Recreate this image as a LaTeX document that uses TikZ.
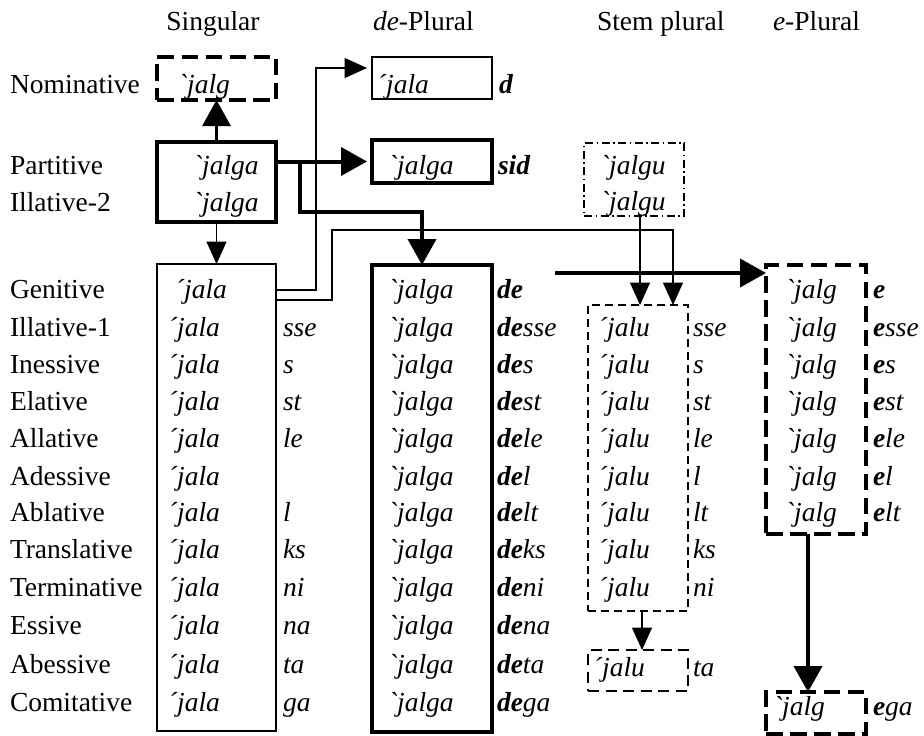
\documentclass[tikz,border=0pt]{standalone}
\usepackage{fontspec}
\setmainfont{Liberation Serif}[Ligatures=TeXOff]
\usetikzlibrary{arrows.meta,fit,calc}
\begin{document}
\begin{tikzpicture}[x=0.4pt,y=-0.4pt,
  every node/.style={inner sep=0pt, outer sep=0pt, font=\fontsize{11}{13}\selectfont},
  txt/.style={anchor=base west},
  hd/.style={anchor=base},
  it/.style={anchor=base west, font=\fontsize{11}{13}\selectfont\itshape},
  thinbox/.style={draw, line width=0.6pt},
  thickbox/.style={draw, line width=1.6pt},
  thickdash/.style={draw, line width=1.6pt, dash pattern=on 6.6pt off 3pt},
  thindash/.style={draw, line width=0.6pt, dash pattern=on 3.2pt off 2pt},
  middash/.style={draw, line width=0.9pt, dash pattern=on 4.4pt off 2.6pt},
  dashdot/.style={draw, line width=0.6pt, dash pattern=on 3.2pt off 1.4pt on 0.6pt off 1.4pt},
  thn/.style={line width=0.6pt, -{Triangle[length=9pt,width=8pt]}},
  thk/.style={line width=1.6pt, -{Triangle[length=10.4pt,width=11.2pt]}},
]
\useasboundingbox (0,0) rectangle (924,735);

% ---------- boxes ----------
\coordinate (nomS1) at (157,57);  \coordinate (nomS2) at (276,100);
\node[thickdash, fit=(nomS1)(nomS2)] (nomS) {};
\coordinate (partS1) at (157,142); \coordinate (partS2) at (276,222);
\node[thickbox, fit=(partS1)(partS2)] (partS) {};
\coordinate (singB1) at (157,264); \coordinate (singB2) at (276,731);
\node[thinbox, fit=(singB1)(singB2)] (singBox) {};

\coordinate (nomD1) at (372,57);  \coordinate (nomD2) at (492,99);
\node[thinbox, fit=(nomD1)(nomD2)] (nomDe) {};
\coordinate (partD1) at (372,140); \coordinate (partD2) at (492,183);
\node[thickbox, fit=(partD1)(partD2)] (partDe) {};
\coordinate (deB1) at (372,265); \coordinate (deB2) at (492,732);
\node[thickbox, fit=(deB1)(deB2)] (deBox) {};

\coordinate (partT1) at (584,143); \coordinate (partT2) at (684,216);
\node[dashdot, fit=(partT1)(partT2)] (partSt) {};
\coordinate (stB1) at (588,305); \coordinate (stB2) at (688,611);
\node[thindash, fit=(stB1)(stB2)] (stBox) {};
\coordinate (abT1) at (588,650); \coordinate (abT2) at (688,691);
\node[middash, fit=(abT1)(abT2)] (abeSt) {};

\coordinate (eB1) at (766,265); \coordinate (eB2) at (866,534);
\node[thickdash, fit=(eB1)(eB2)] (eBox) {};
\coordinate (cE1) at (766,692); \coordinate (cE2) at (866,734);
\node[thickdash, fit=(cE1)(cE2)] (comE) {};

% ---------- headers ----------
\node[hd] (hS) at (213,30) {Singular};
\node[txt] (hD) at (373,30) {\textit{de}-Plural};
\node[txt] (hT) at (597,30) {Stem plural};
\node[txt] (hE) at (773,30) {\textit{e}-Plural};

% ---------- top rows ----------
\node[txt] (lNom) at (10,93) {Nominative};
\node[txt] (lPar) at (10,174) {Partitive};
\node[txt] (lIl2) at (10,211) {Illative-2};

\node[it] (sNom) at (178,93) {`jalg};
\node[it] (sPar) at (193,174) {`jalga};
\node[it] (sIl2) at (193,211) {`jalga};

\node[it] (dNom) at (377,93) {´jala};
\node[it] (dNomS) at (499,93) {\textbf{d}};
\node[it] (dPar) at (388,174) {`jalga};
\node[it] (dParS) at (498,174) {\textbf{sid}};

\node[it] (tPar) at (600,174) {`jalgu};
\node[it] (tIl2) at (600,210) {`jalgu};

% ---------- main rows (baselines) ----------
\foreach \lab/\y [count=\i from 0] in {Genitive/298,Illative-1/336,Inessive/373,Elative/410,Allative/447,Adessive/485,Ablative/521,Translative/558,Terminative/596,Essive/634,Abessive/673,Comitative/711}{
  \node[txt] (l\i) at (10,\y) {\lab};
  \node[it] (d\i) at (388,\y) {`jalga};
  \coordinate (r\i) at (0,\y);
}
\node[it] (s0) at (175,298) {´jala};
\foreach \i in {1,...,11}{
  \node[it] (s\i) at (r\i -| 168,0) {´jala};
}
\foreach \suf/\i in {sse/1,s/2,st/3,le/4,l/6,ks/7,ni/8,na/9,ta/10,ga/11}{
  \node[it] (ss\i) at (r\i -| 283,0) {\suf};
}
\node[it] (ds0) at (r0 -| 497,0) {\textbf{de}};
\foreach \suf/\i in {sse/1,s/2,st/3,le/4,l/5,lt/6,ks/7,ni/8,na/9,ta/10,ga/11}{
  \node[it] (ds\i) at (r\i -| 497,0) {\textbf{de}\suf};
}
\foreach \suf/\i in {sse/1,s/2,st/3,le/4,l/5,lt/6,ks/7,ni/8}{
  \node[it] (t\i) at (r\i -| 598,0) {´jalu};
  \node[it] (ts\i) at (r\i -| 693,0) {\suf};
}
\node[it] (t10) at (593,676) {´jalu};
\node[it] (ts10) at (693,676) {ta};

\node[it] (e0) at (r0 -| 785,0) {`jalg};
\node[it] (es0) at (r0 -| 873,0) {\textbf{e}};
\foreach \suf/\i in {sse/1,s/2,st/3,le/4,l/5,lt/6}{
  \node[it] (e\i) at (r\i -| 785,0) {`jalg};
  \node[it] (es\i) at (r\i -| 873,0) {\textbf{e}\suf};
}
\node[it] (e11) at (773,715) {`jalg};
\node[it] (es11) at (873,715) {\textbf{e}ga};

% ---------- connectors ----------
\coordinate (y290) at (0,290);
\coordinate (y300) at (0,300);
\coordinate (k5) at (316,68);
\coordinate (k6) at (332,230);
\coordinate (k6b) at (673,0);
\coordinate (j1) at (300,0);
\coordinate (j2) at (422,212);
\coordinate (k8) at (555,273);

\draw[thn, shorten >=2pt] (singBox.east |- y290) -| (k5) -- (k5 -| nomDe.west);
\draw[thn] (singBox.east |- y300) -| (k6) -| (k6b |- stBox.north);
\draw[thk, line width=1.2pt] (partS.north) -- (nomS.south);
\draw[thn] (partS.south) -- (singBox.north);
\draw[thk, shorten >=2pt] (partS.east |- partDe.west) -- (partDe.west);
\draw[thk] (j1 |- partDe.west) |- (j2) -- (j2 |- deBox.north);
\draw[thn] ($(partSt.south)+(6,0)$) -- ($(partSt.south |- stBox.north)+(6,0)$);
\draw[thk] (k8) -- (k8 -| eBox.west);
\draw[thn] ($(stBox.south)+(4,0)$) -- ($(abeSt.north)+(4,0)$);
\draw[thk] ($(eBox.south)+(-8,0)$) -- ($(comE.north)+(-8,0)$);
\end{tikzpicture}
\end{document}
